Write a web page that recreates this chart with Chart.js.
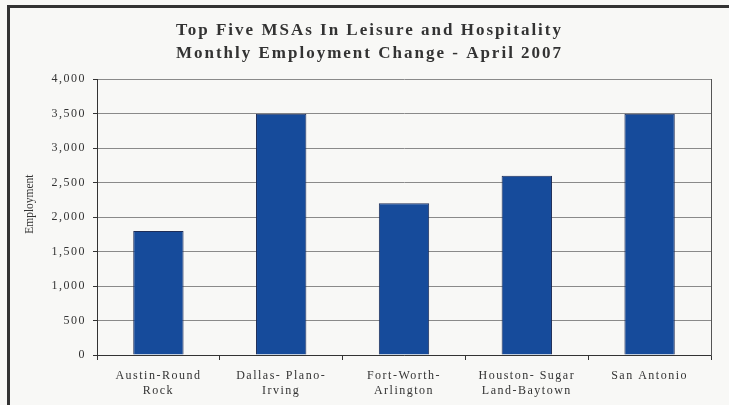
<!DOCTYPE html>
<html>
<head>
<meta charset="utf-8">
<script src="https://cdn.jsdelivr.net/npm/chart.js@4/dist/chart.umd.min.js"></script>
<style>
    html, body { margin: 0; padding: 0; background: #f8f8f6; }
    #wrap { position: relative; width: 729px; height: 405px; overflow: hidden; }
    #frame {
        position: absolute; left: 7px; top: 5px; width: 740px; height: 420px;
        border-left: 3px solid #333; border-top: 3px solid #333;
    }
    canvas { position: absolute; left: 0; top: 0; }
</style>
</head>
<body>
<div id="wrap">
    <div id="frame"></div>
    <canvas id="chart" width="729" height="405"></canvas>
</div>
<script>
const titleLines = ['Top Five MSAs In Leisure and Hospitality', 'Monthly Employment Change - April 2007'];
const categories = [
    ['Austin-Round', 'Rock'],
    ['Dallas- Plano-', 'Irving'],
    ['Fort-Worth-', 'Arlington'],
    ['Houston- Sugar', 'Land-Baytown'],
    ['San Antonio']
];
const employment = [1800, 3500, 2200, 2600, 3500];
const yAxisTitle = 'Employment';

const serif = '"Liberation Serif", serif';

// spaced-out type of the original: pick letter spacing from the font size at draw time
function spacingFor(font) {
    if (font.indexOf('17px') >= 0) return '2px';
    if (font.indexOf('12px') >= 0) return '1.5px';
    return '0px';
}

// y axis title, drawn a little above the middle like the original
const yTitle = {
    id: 'yTitle',
    afterDraw(chart) {
        const c = chart.ctx;
        const area = chart.chartArea;
        c.save();
        c.font = '11.5px ' + serif;
        c.letterSpacing = '0px';
        c.fillStyle = '#333';
        c.textAlign = 'center';
        c.textBaseline = 'middle';
        c.translate(30, area.top + (area.bottom - area.top) * 0.453);
        c.rotate(-Math.PI / 2);
        c.fillText(yAxisTitle, 0, 0);
        c.restore();
    }
};

const canvas = document.getElementById('chart');
const ctx = canvas.getContext('2d');
const rawFillText = CanvasRenderingContext2D.prototype.fillText;
ctx.fillText = function (text, x, y, maxWidth) {
    this.letterSpacing = spacingFor(this.font);
    if (maxWidth === undefined) return rawFillText.call(this, text, x, y);
    return rawFillText.call(this, text, x, y, maxWidth);
};

new Chart(ctx, {
    type: 'bar',
    data: {
        labels: categories,
        datasets: [{
            label: yAxisTitle,
            data: employment,
            backgroundColor: '#164b9b',
            borderColor: '#1d2d58',
            borderWidth: 1,
            categoryPercentage: 1,
            barPercentage: 0.41
        }]
    },
    options: {
        responsive: false,
        animation: false,
        devicePixelRatio: 1,
        layout: { padding: { left: 10, right: 0, top: 7, bottom: 0 } },
        scales: {
            x: {
                grid: {
                    offset: true,
                    drawOnChartArea: false,
                    tickLength: 5,
                    color: '#333'
                },
                border: { color: '#333', width: 1 },
                ticks: {
                    color: '#333',
                    padding: 9,
                    maxRotation: 0,
                    autoSkip: false,
                    font: { family: serif, size: 12 }
                },
                afterFit(scale) { scale.height = 50; }
            },
            y: {
                min: 0,
                max: 4000,
                ticks: {
                    stepSize: 500,
                    color: '#333',
                    padding: 7,
                    font: { family: serif, size: 12 }
                },
                grid: { color: '#8a8a8a', tickColor: '#333', tickLength: 4 },
                border: { color: '#333', width: 1 },
                afterFit(scale) { scale.width = 87; }
            },
            yRight: {
                position: 'right',
                min: 0,
                max: 4000,
                grid: { display: false },
                ticks: { display: false },
                border: { display: true, color: '#555', width: 1 },
                afterFit(scale) { scale.width = 18; }
            }
        },
        plugins: {
            legend: { display: false },
            tooltip: { enabled: false },
            title: {
                display: true,
                text: titleLines,
                color: '#333',
                padding: { top: 13, bottom: 15 },
                font: { family: serif, size: 17, weight: 'bold', lineHeight: 1.3 }
            }
        }
    },
    plugins: [yTitle]
});
</script>
</body>
</html>
